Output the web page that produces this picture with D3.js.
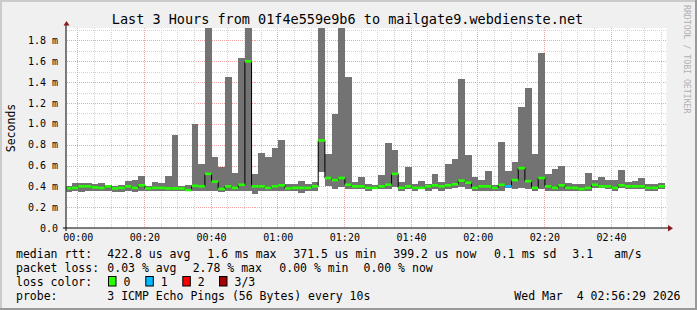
<!DOCTYPE html>
<html>
<head>
<meta charset="utf-8">
<script src="https://cdn.jsdelivr.net/npm/d3@7"></script>
<style>
  html, body { margin: 0; padding: 0; background: #f0f0f0; }
  svg { display: block; }
  text { font-family: "DejaVu Sans Mono", monospace; white-space: pre; }
</style>
</head>
<body>
<svg id="chart" width="697" height="310"></svg>
<script>
// 2-minute consolidation slots (start time of each slot)
const slots = [
  "23:56","23:58",
  "00:00","00:02","00:04","00:06","00:08","00:10","00:12","00:14","00:16","00:18",
  "00:20","00:22","00:24","00:26","00:28","00:30","00:32","00:34","00:36","00:38",
  "00:40","00:42","00:44","00:46","00:48","00:50","00:52","00:54","00:56","00:58",
  "01:00","01:02","01:04","01:06","01:08","01:10","01:12","01:14","01:16","01:18",
  "01:20","01:22","01:24","01:26","01:28","01:30","01:32","01:34","01:36","01:38",
  "01:40","01:42","01:44","01:46","01:48","01:50","01:52","01:54","01:56","01:58",
  "02:00","02:02","02:04","02:06","02:08","02:10","02:12","02:14","02:16","02:18",
  "02:20","02:22","02:24","02:26","02:28","02:30","02:32","02:34","02:36","02:38",
  "02:40","02:42","02:44","02:46","02:48","02:50","02:52","02:54"
];

// smoke (ms): highest and lowest ping of each slot
const smokeMax = [
  0.40, 0.43,
  0.43, 0.43, 0.42, 0.43, 0.415, 0.40, 0.415, 0.45, 0.46, 0.50,
  0.40, 0.44, 0.43, 0.50, 0.89, 0.40, 0.415, 1.00, 0.61, 2.50,
  0.68, 0.585, 1.45, 0.53, 1.635, 2.60, 0.52, 0.72, 0.68, 0.77,
  0.845, 0.42, 0.42, 0.45, 0.42, 0.44, 2.40, 0.71, 1.09, 2.20,
  1.45, 0.44, 0.49, 0.425, 0.415, 0.51, 0.82, 0.75, 0.44, 0.59,
  0.425, 0.45, 0.425, 0.52, 0.44, 0.61, 0.665, 1.43, 0.705, 0.49,
  0.46, 0.55, 0.415, 0.83, 0.55, 0.635, 1.16, 1.34, 0.71, 1.68,
  0.52, 0.565, 0.595, 0.43, 0.42, 0.42, 0.53, 0.46, 0.49, 0.46,
  0.46, 0.56, 0.44, 0.45, 0.48, 0.42, 0.42, 0.43
];
const smokeMin = [
  0.35, 0.36,
  0.35, 0.36, 0.36, 0.36, 0.36, 0.35, 0.35, 0.36, 0.35, 0.36,
  0.36, 0.36, 0.36, 0.355, 0.36, 0.36, 0.355, 0.36, 0.36, 0.36,
  0.36, 0.35, 0.36, 0.36, 0.36, 0.36, 0.33, 0.36, 0.355, 0.36,
  0.36, 0.36, 0.355, 0.34, 0.355, 0.36, 0.535, 0.405, 0.37, 0.39,
  0.37, 0.375, 0.37, 0.36, 0.37, 0.37, 0.37, 0.39, 0.36, 0.37,
  0.355, 0.37, 0.36, 0.37, 0.36, 0.37, 0.385, 0.39, 0.375, 0.355,
  0.36, 0.36, 0.36, 0.36, 0.38, 0.37, 0.385, 0.375, 0.36, 0.375,
  0.36, 0.36, 0.36, 0.36, 0.36, 0.355, 0.36, 0.385, 0.38, 0.37,
  0.36, 0.385, 0.37, 0.37, 0.37, 0.36, 0.36, 0.37
];
const medianRtt = [
  0.38, 0.385,
  0.40, 0.40, 0.39, 0.385, 0.40, 0.38, 0.385, 0.40, 0.385, 0.41,
  0.38, 0.385, 0.385, 0.38, 0.38, 0.38, 0.365, 0.405, 0.40, 0.52,
  0.445, 0.375, 0.40, 0.385, 0.415, 1.60, 0.40, 0.40, 0.385, 0.40,
  0.41, 0.38, 0.385, 0.385, 0.385, 0.40, 0.84, 0.48, 0.46, 0.48,
  0.415, 0.40, 0.40, 0.385, 0.385, 0.40, 0.415, 0.52, 0.385, 0.40,
  0.385, 0.385, 0.40, 0.41, 0.40, 0.41, 0.42, 0.455, 0.435, 0.385,
  0.40, 0.40, 0.385, 0.415, 0.40, 0.46, 0.575, 0.45, 0.385, 0.48,
  0.40, 0.385, 0.41, 0.385, 0.385, 0.375, 0.385, 0.415, 0.40, 0.40,
  0.385, 0.41, 0.40, 0.40, 0.40, 0.385, 0.385, 0.40
];
// lost pings out of 3
const lostPings = [
  0, 0,
  0, 0, 0, 0, 0, 0, 0, 0, 0, 0,
  0, 0, 0, 0, 0, 0, 0, 0, 0, 0,
  0, 0, 0, 0, 0, 0, 0, 0, 0, 0,
  0, 0, 0, 0, 0, 0, 0, 0, 0, 0,
  0, 0, 0, 0, 0, 0, 0, 0, 0, 0,
  0, 0, 0, 0, 0, 0, 0, 0, 0, 0,
  0, 0, 0, 0, 1, 0, 0, 0, 0, 0,
  0, 0, 0, 0, 0, 0, 0, 0, 0, 0,
  0, 0, 0, 0, 0, 0, 0, 0
];

const yTickValues = [0, 0.2, 0.4, 0.6, 0.8, 1.0, 1.2, 1.4, 1.6, 1.8];
const yTickLabels = ["0.0", "0.2 m", "0.4 m", "0.6 m", "0.8 m", "1.0 m", "1.2 m", "1.4 m", "1.6 m", "1.8 m"];
const xTickLabels = ["00:00", "00:20", "00:40", "01:00", "01:20", "01:40", "02:00", "02:20", "02:40"];

const lossColors = ["#26ff00", "#00b8ff", "#ff0000", "#a00000"];
const lossLabels = ["0", "1", "2", "3/3"];

const title = "Last 3 Hours from 01f4e559e9b6 to mailgate9.webdienste.net";
const statRows = [
  [["median rtt:", 16], ["422.8 us avg", 107.3], ["1.6 ms max", 207.3], ["371.5 us min", 293.3],
   ["399.2 us now", 393.3], ["0.1 ms sd", 494], ["3.1", 572.3], ["am/s", 614]],
  [["packet loss:", 16], ["0.03 % avg", 107.3], ["2.78 % max", 192.7], ["0.00 % min", 279.3], ["0.00 % now", 363.5]]
];

const toSec = s => {
  let [h, m] = s.split(":").map(Number);
  let mins = h * 60 + m;
  if (h >= 12) mins -= 1440;
  return mins * 60;
};
const step = 120;
const rows = slots.map((s, i) => ({
  t: toSec(s), hi: smokeMax[i], lo: smokeMin[i], med: medianRtt[i], loss: lostPings[i]
}));

let svg = d3.select("#chart");
const W = 697, H = 310;
let plot = { x0: 66.5, x1: 666.5, y0: 28, y1: 228 };

// background + 3d frame
svg.append("rect").attr("width", W).attr("height", H).attr("fill", "#f0f0f0");
svg.append("path").attr("d", `M0,0H${W}V2H2V${H}H0Z`).attr("fill", "#cbcbcb");
svg.append("path").attr("d", `M${W},${H}H0V${H - 2}H${W - 2}V0H${W}Z`).attr("fill", "#999999");

svg.append("rect")
  .attr("x", plot.x0).attr("y", plot.y0)
  .attr("width", plot.x1 - plot.x0).attr("height", plot.y1 - plot.y0)
  .attr("fill", "#ffffff");

let xScale = d3.scaleLinear().domain([-211, 10589]).range([plot.x0, plot.x1]);
let yScale = d3.scaleLinear().domain([0, 1.92]).range([plot.y1, plot.y0]);

svg.append("clipPath").attr("id", "clip")
  .append("rect")
  .attr("x", plot.x0).attr("y", plot.y0)
  .attr("width", plot.x1 - plot.x0).attr("height", plot.y1 - plot.y0);

// grid
let grid = svg.append("g").attr("shape-rendering", "crispEdges");
d3.range(1, 20, 2).forEach(i => {
  let y = Math.round(yScale(i / 10)) + 0.5;
  grid.append("line").attr("x1", plot.x0).attr("x2", plot.x1).attr("y1", y).attr("y2", y)
    .attr("stroke", "#d4d4d4").attr("stroke-dasharray", "1,1");
});
yTickValues.slice(1).forEach(v => {
  let y = Math.round(yScale(v)) + 0.5;
  grid.append("line").attr("x1", plot.x0).attr("x2", plot.x1).attr("y1", y).attr("y2", y)
    .attr("stroke", "#f2a5a5").attr("stroke-dasharray", "1,1");
});
d3.range(0, 10589, 300).forEach(t => {
  let x = Math.round(xScale(t)) - 0.5;
  let major = t % 1200 === 0;
  grid.append("line").attr("x1", x).attr("x2", x).attr("y1", plot.y0).attr("y2", plot.y1)
    .attr("stroke", major ? "#f2a5a5" : "#d4d4d4").attr("stroke-dasharray", "1,1");
});

let g = svg.append("g").attr("clip-path", "url(#clip)");

// smoke
g.selectAll(".smoke")
  .data(rows)
  .enter().append("rect")
    .attr("class", "smoke")
    .attr("shape-rendering", "crispEdges")
    .attr("x", d => xScale(d.t))
    .attr("width", d => xScale(d.t + step) - xScale(d.t))
    .attr("y", d => yScale(d.hi))
    .attr("height", d => yScale(d.lo) - yScale(d.hi))
    .attr("fill", "#737373");

// median step line
let stepPts = rows.map(d => [d.t, d.med]);
stepPts.push([rows[rows.length - 1].t + step, rows[rows.length - 1].med]);
let line = d3.line().x(d => xScale(d[0])).y(d => yScale(d[1])).curve(d3.curveStepAfter);
g.append("path")
  .datum(stepPts)
  .attr("fill", "none")
  .attr("stroke", "#000")
  .attr("stroke-width", 1)
  .attr("d", line);

// median band coloured by loss
g.selectAll(".med")
  .data(rows)
  .enter().append("rect")
    .attr("class", "med")
    .attr("x", d => xScale(d.t))
    .attr("width", d => xScale(d.t + step) - xScale(d.t))
    .attr("y", d => yScale(d.med) - 1.3)
    .attr("height", 2.6)
    .attr("fill", d => lossColors[d.loss]);

// axes
svg.append("line").attr("x1", 66).attr("x2", 66).attr("y1", 25).attr("y2", 231)
  .attr("stroke", "#000");
svg.append("line").attr("x1", 63).attr("x2", 669).attr("y1", 228).attr("y2", 228)
  .attr("stroke", "#000");
svg.append("path").attr("d", "M63.5,25.5L66.5,21L69.5,25.5Z").attr("fill", "#8b1a1a");
svg.append("path").attr("d", "M668,225L673,228.3L668,231.5Z").attr("fill", "#8b1a1a");

// tick labels
svg.selectAll(".ylab")
  .data(yTickValues)
  .enter().append("text")
    .attr("class", "ylab")
    .attr("x", 58)
    .attr("y", d => yScale(d) + 3.5)
    .attr("text-anchor", "end")
    .attr("font-size", "10px")
    .attr("fill", "#000")
    .text((d, i) => yTickLabels[i]);

svg.selectAll(".xlab")
  .data(xTickLabels)
  .enter().append("text")
    .attr("class", "xlab")
    .attr("x", d => xScale(toSec(d)))
    .attr("y", 241)
    .attr("text-anchor", "middle")
    .attr("font-size", "10px")
    .attr("fill", "#000")
    .text(d => d);

// title and axis name
svg.append("text")
  .attr("x", 347.5).attr("y", 24)
  .attr("text-anchor", "middle")
  .attr("font-size", "13.5px")
  .text(title);
svg.append("text")
  .attr("transform", "translate(15,128) rotate(-90)")
  .attr("text-anchor", "middle")
  .attr("font-size", "11.5px")
  .text("Seconds");
svg.append("text")
  .attr("transform", "translate(684,5) rotate(90)")
  .attr("font-size", "8.2px")
  .attr("fill", "#b0b0b0")
  .text("RRDTOOL / TOBI OETIKER");

// legend
const rowY = [258, 272, 286, 300];
statRows.forEach((items, r) => {
  items.forEach(([txt, x]) => {
    svg.append("text").attr("x", x).attr("y", rowY[r]).attr("font-size", "11.5px").text(txt);
  });
});

svg.append("text").attr("x", 16).attr("y", rowY[2]).attr("font-size", "11.5px").text("loss color:");
const boxX = [108.5, 145.8, 182.8, 219.5];
lossColors.forEach((c, i) => {
  svg.append("rect")
    .attr("x", boxX[i]).attr("y", 276.5)
    .attr("width", 7.5).attr("height", 9.5)
    .attr("fill", c).attr("stroke", "#000").attr("stroke-width", 1);
  svg.append("text").attr("x", boxX[i] + 15).attr("y", rowY[2]).attr("font-size", "11.5px").text(lossLabels[i]);
});

svg.append("text").attr("x", 16).attr("y", rowY[3]).attr("font-size", "11.5px").text("probe:");
svg.append("text").attr("x", 107.3).attr("y", rowY[3]).attr("font-size", "11.5px")
  .text("3 ICMP Echo Pings (56 Bytes) every 10s");
svg.append("text").attr("x", 680.5).attr("y", rowY[3]).attr("font-size", "11.5px")
  .attr("text-anchor", "end")
  .text("Wed Mar  4 02:56:29 2026");
</script>
</body>
</html>
